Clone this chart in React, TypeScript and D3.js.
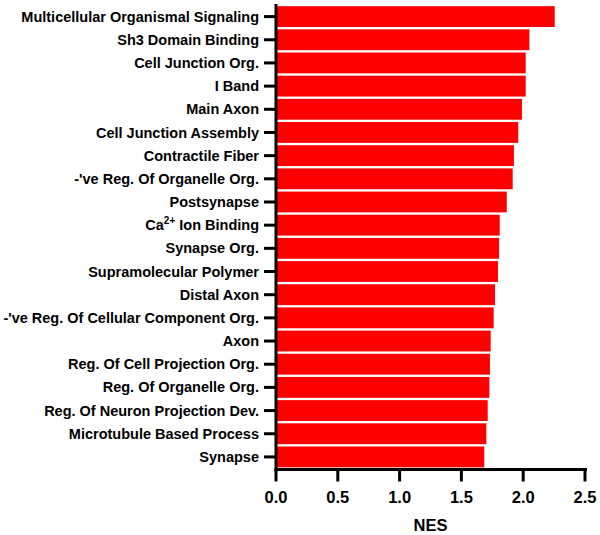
import * as d3 from "d3";

const categories = [
  "Multicellular Organismal Signaling",
  "Sh3 Domain Binding",
  "Cell Junction Org.",
  "I Band",
  "Main Axon",
  "Cell Junction Assembly",
  "Contractile Fiber",
  "-'ve Reg. Of Organelle Org.",
  "Postsynapse",
  "Ca2+ Ion Binding",
  "Synapse Org.",
  "Supramolecular Polymer",
  "Distal Axon",
  "-'ve Reg. Of Cellular Component Org.",
  "Axon",
  "Reg. Of Cell Projection Org.",
  "Reg. Of Organelle Org.",
  "Reg. Of Neuron Projection Dev.",
  "Microtubule Based Process",
  "Synapse",
];

const nes = [
  2.255, 2.05, 2.02, 2.02, 1.99, 1.96, 1.925, 1.915, 1.867, 1.81, 1.805, 1.796,
  1.772, 1.761, 1.737, 1.731, 1.726, 1.713, 1.702, 1.685,
];

const xTicks = [0, 0.5, 1.0, 1.5, 2.0, 2.5];

const width = 600;
const height = 535;
const font = "'Liberation Sans', Arial, sans-serif";

function Label({ text, x, y }: { text: string; x: number; y: number }) {
  // the superscript needs its own tspan
  if (text.startsWith("Ca2+")) {
    return (
      <text x={x} y={y} dy="0.35em" textAnchor="end">
        Ca
        <tspan fontSize={10} dy={-6}>2+</tspan>
        <tspan dy={6}>{text.slice(4)}</tspan>
      </text>
    );
  }
  return (
    <text x={x} y={y} dy="0.35em" textAnchor="end">
      {text}
    </text>
  );
}

export default function App() {
  const axisX = 276;
  const axisY = 469.5;

  const x = d3.scaleLinear().domain([0, 2.5]).range([axisX, 585]);
  const y = d3
    .scaleBand()
    .domain(categories)
    .range([5, 468.5])
    .paddingInner(0.1)
    .paddingOuter(0.05);

  return (
    <div style={{ position: "absolute", left: 0, top: 0 }}>
      <svg width={width} height={height} style={{ display: "block" }} fontFamily={font} fontWeight="bold">
        <rect width={width} height={height} fill="white" />
        <g fill="#ff0000">
          {categories.map((c, i) => (
            <rect
              key={c}
              x={x(0)}
              y={y(c)}
              width={x(nes[i]) - x(0)}
              height={y.bandwidth()}
            />
          ))}
        </g>

        {/* y axis */}
        <g stroke="black" strokeWidth={3}>
          <line x1={axisX} x2={axisX} y1={4} y2={axisY + 1.5} />
          {categories.map((c) => {
            const cy = y(c)! + y.bandwidth() / 2;
            return <line key={c} x1={axisX - 12} x2={axisX} y1={cy} y2={cy} />;
          })}
        </g>
        <g fontSize={14.5} fill="#000">
          {categories.map((c) => (
            <Label key={c} text={c} x={259} y={y(c)! + y.bandwidth() / 2} />
          ))}
        </g>

        {/* x axis */}
        <g stroke="black" strokeWidth={3}>
          <line x1={axisX - 1.5} x2={587} y1={axisY} y2={axisY} />
          {xTicks.map((t) => (
            <line key={t} x1={x(t)} x2={x(t)} y1={axisY} y2={axisY + 12} />
          ))}
        </g>
        <g fontSize={16.5} fill="#000" textAnchor="middle">
          {xTicks.map((t) => (
            <text key={t} x={x(t)} y={503}>
              {t.toFixed(1)}
            </text>
          ))}
          <text x={(x(0) + x(2.5)) / 2} y={531}>
            NES
          </text>
        </g>
      </svg>
    </div>
  );
}
